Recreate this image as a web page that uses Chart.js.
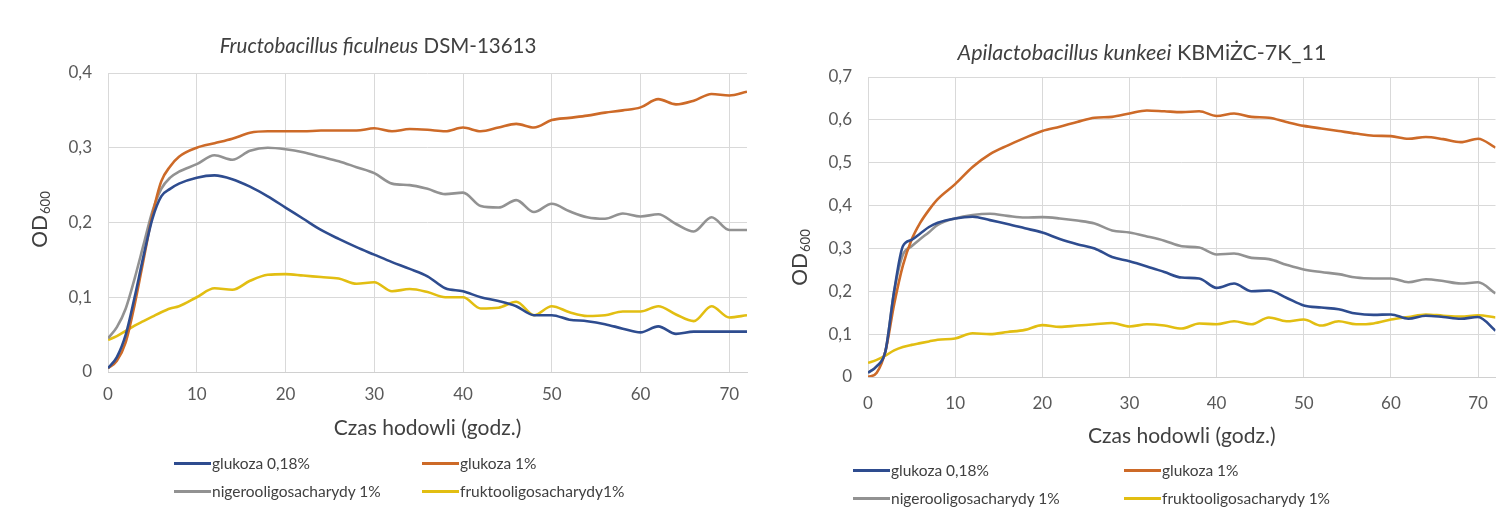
<!DOCTYPE html>
<html><head><meta charset="utf-8">
<script src="https://cdn.jsdelivr.net/npm/chart.js@4.4.0/dist/chart.umd.min.js"></script>
<style>
body{margin:0;background:#fff;width:1504px;height:512px;overflow:hidden;position:relative;font-family:Lato,'Open Sans',sans-serif;}
canvas{position:absolute;top:0}
#cF{left:0px} #cA{left:760px}
.title{position:absolute;color:#404040;white-space:nowrap;transform:translate(-50%,-50%)}
.leg{position:absolute;font-size:15.5px;color:#404040;white-space:nowrap;display:flex;align-items:center;transform:translateY(-50%)}
.leg .l{display:inline-block;width:37px;height:3px;margin-right:1px}
</style></head>
<body>
<canvas id="cF" width="760" height="512"></canvas>
<canvas id="cA" width="744" height="512"></canvas>
<div class="title" style="left:378px;top:45px;font-size:20.5px"><i>Fructobacillus ficulneus</i> DSM-13613</div>
<div class="title" style="left:1142px;top:52px;font-size:21.5px"><i>Apilactobacillus kunkeei</i> KBMiŻC-7K_11</div>
<script>
// ---- data ----
const hours = [0,1,2,3,4,5,6,7,8,10,12,14,16,18,20,22,24,26,28,30,32,34,36,38,40,42,44,46,48,50,52,54,56,58,60,62,64,66,68,70,72];

const seriesNames = ['glukoza 0,18%','glukoza 1%','nigerooligosacharydy 1%','fruktooligosacharydy1%'];
const seriesNamesA = ['glukoza 0,18%','glukoza 1%','nigerooligosacharydy 1%','fruktooligosacharydy 1%'];
const seriesColors = ['#2E4C8F','#CD6A28','#929292','#E2BE12'];

// Fructobacillus ficulneus DSM-13613
const fGlc018 = [0.005,0.02,0.05,0.10,0.155,0.205,0.235,0.245,0.252,0.26,0.263,0.258,0.248,0.235,0.22,0.205,0.19,0.178,0.167,0.157,0.147,0.138,0.128,0.112,0.108,0.10,0.095,0.088,0.076,0.076,0.07,0.068,0.064,0.058,0.053,0.061,0.051,0.054,0.054,0.054,0.054];
const fGlc1 = [0.005,0.015,0.04,0.09,0.15,0.21,0.255,0.275,0.288,0.30,0.306,0.312,0.32,0.322,0.322,0.322,0.323,0.323,0.323,0.326,0.322,0.325,0.324,0.322,0.327,0.322,0.327,0.332,0.327,0.337,0.34,0.343,0.347,0.35,0.354,0.365,0.358,0.363,0.372,0.37,0.375];
const fNOS = [0.045,0.06,0.085,0.125,0.17,0.215,0.245,0.26,0.268,0.278,0.29,0.284,0.296,0.30,0.298,0.294,0.288,0.282,0.274,0.266,0.252,0.25,0.245,0.238,0.24,0.222,0.22,0.23,0.214,0.225,0.215,0.207,0.205,0.212,0.208,0.211,0.198,0.188,0.207,0.19,0.19];
const fFOS = [0.043,0.048,0.055,0.062,0.068,0.074,0.08,0.085,0.088,0.10,0.112,0.11,0.122,0.13,0.131,0.129,0.127,0.125,0.118,0.12,0.108,0.111,0.107,0.10,0.10,0.085,0.086,0.094,0.076,0.088,0.08,0.075,0.076,0.081,0.081,0.088,0.077,0.068,0.088,0.073,0.076];

// Apilactobacillus kunkeei KBMiŻC-7K_11
const aGlc018 = [0.01,0.025,0.06,0.20,0.305,0.32,0.335,0.35,0.36,0.37,0.374,0.366,0.357,0.347,0.337,0.322,0.31,0.30,0.28,0.27,0.258,0.245,0.232,0.23,0.208,0.218,0.20,0.202,0.185,0.167,0.162,0.158,0.148,0.145,0.146,0.136,0.143,0.14,0.136,0.14,0.108];
const aGlc1 = [0.0,0.01,0.06,0.17,0.26,0.32,0.36,0.39,0.415,0.45,0.49,0.52,0.54,0.558,0.574,0.584,0.595,0.605,0.607,0.615,0.622,0.62,0.618,0.62,0.609,0.615,0.607,0.605,0.595,0.586,0.58,0.574,0.568,0.563,0.562,0.556,0.56,0.555,0.548,0.556,0.535];
const aNOS = [0.01,0.025,0.06,0.20,0.285,0.305,0.322,0.338,0.355,0.37,0.378,0.381,0.376,0.372,0.373,0.37,0.365,0.358,0.342,0.337,0.328,0.318,0.305,0.302,0.286,0.288,0.278,0.275,0.262,0.251,0.245,0.24,0.232,0.23,0.23,0.221,0.228,0.224,0.218,0.221,0.195];
const aFOS = [0.033,0.04,0.05,0.062,0.07,0.075,0.079,0.083,0.087,0.09,0.102,0.10,0.105,0.11,0.121,0.117,0.12,0.123,0.126,0.118,0.123,0.12,0.113,0.125,0.123,0.13,0.123,0.139,0.13,0.134,0.12,0.13,0.123,0.125,0.134,0.14,0.146,0.143,0.141,0.144,0.139];

const xTickLabels = ['0','10','20','30','40','50','60','70'];
const yTickLabelsF = ['0','0,1','0,2','0,3','0,4'];
const yTickLabelsA = ['0','0,1','0,2','0,3','0,4','0,5','0,6','0,7'];
const xTitle = 'Czas hodowli (godz.)';

// ---- chart building ----
const FONT = "Lato, 'Open Sans', sans-serif";
const TXT = '#595959';

const yTitlePlugin = {
  id: 'yTitle',
  afterDraw(chart, args, opts) {
    const ctx = chart.ctx;
    ctx.save();
    ctx.translate(opts.x, opts.y);
    ctx.rotate(-Math.PI/2);
    ctx.fillStyle = '#404040';
    ctx.textBaseline = 'middle';
    ctx.font = '21px ' + FONT;
    const w1 = ctx.measureText('OD').width;
    ctx.font = '13px ' + FONT;
    const w2 = ctx.measureText('600').width;
    const start = -(w1 + w2)/2;
    ctx.font = '21px ' + FONT;
    ctx.textAlign = 'left';
    ctx.fillText('OD', start, 0);
    ctx.font = '13px ' + FONT;
    ctx.fillText('600', start + w1 + 1, 6);
    ctx.restore();
  }
};

function makeChart(id, data, names, yMax, yLabels, area, cw, tickPadX, titleY, yTitlePos) {
  const datasets = data.map((d, i) => ({
    label: names[i],
    data: hours.map((h, k) => ({x: h, y: d[k]})),
    borderColor: seriesColors[i],
    backgroundColor: seriesColors[i],
    borderWidth: 2.6,
    pointRadius: 0,
    tension: 0.4,
    cubicInterpolationMode: 'monotone',
    fill: false
  }));
  const titleFont = 21, lh = titleFont * 1.2;
  return new Chart(document.getElementById(id), {
    type: 'line',
    data: {datasets},
    plugins: [yTitlePlugin],
    options: {
      responsive: false,
      devicePixelRatio: 1,
      animation: false,
      layout: {padding: {left: 0, top: area.top, right: cw - area.right, bottom: 0}},
      plugins: {
        legend: {display: false},
        tooltip: {enabled: false},
        yTitle: yTitlePos
      },
      scales: {
        x: {
          type: 'linear', min: 0, max: 72,
          afterFit(s) { s.height = 512 - area.bottom; },
          ticks: {stepSize: 10, includeBounds: false, padding: tickPadX, color: TXT, font: {family: FONT, size: 17},
            maxRotation: 0,
            callback: (v) => { const i = Math.round(v/10); return (v % 10 === 0 && xTickLabels[i] !== undefined) ? xTickLabels[i] : ''; }},
          grid: {color: '#d9d9d9', lineWidth: 1, drawTicks: false},
          border: {color: '#d0d0d0', width: 1},
          title: {display: true, text: xTitle, color: '#404040', font: {family: FONT, size: titleFont}, padding: {top: 0, bottom: 512 - titleY - lh/2}}
        },
        y: {
          min: 0, max: yMax,
          afterFit(s) { s.width = area.left; },
          ticks: {stepSize: 0.1, padding: 16, color: TXT, font: {family: FONT, size: 17},
            callback: (v) => yLabels[Math.round(v*10)]},
          grid: {color: '#d9d9d9', lineWidth: 1, drawTicks: false},
          border: {display: false}
        }
      }
    }
  });
}

makeChart('cF', [fGlc018, fGlc1, fNOS, fFOS], seriesNames, 0.4, yTickLabelsF,
  {left: 108, right: 747, top: 73, bottom: 372}, 760, 12, 428, {x: 40, y: 220});
makeChart('cA', [aGlc018, aGlc1, aNOS, aFOS], seriesNamesA, 0.7, yTickLabelsA,
  {left: 108, right: 742, top: 77, bottom: 377}, 744, 16, 436, {x: 40, y: 258});

// ---- HTML legends ----
function legend(names, pos) {
  names.forEach((n, i) => {
    const d = document.createElement('div');
    d.className = 'leg';
    d.style.left = pos[i][0] + 'px';
    d.style.top = pos[i][1] + 'px';
    const l = document.createElement('span');
    l.className = 'l';
    l.style.background = seriesColors[i];
    d.appendChild(l);
    d.appendChild(document.createTextNode(n));
    document.body.appendChild(d);
  });
}
legend(seriesNames, [[174,463],[422,463],[174,491],[422,491]]);
legend(seriesNamesA, [[853,470],[1124,470],[853,498],[1124,498]]);
</script>
</body></html>
